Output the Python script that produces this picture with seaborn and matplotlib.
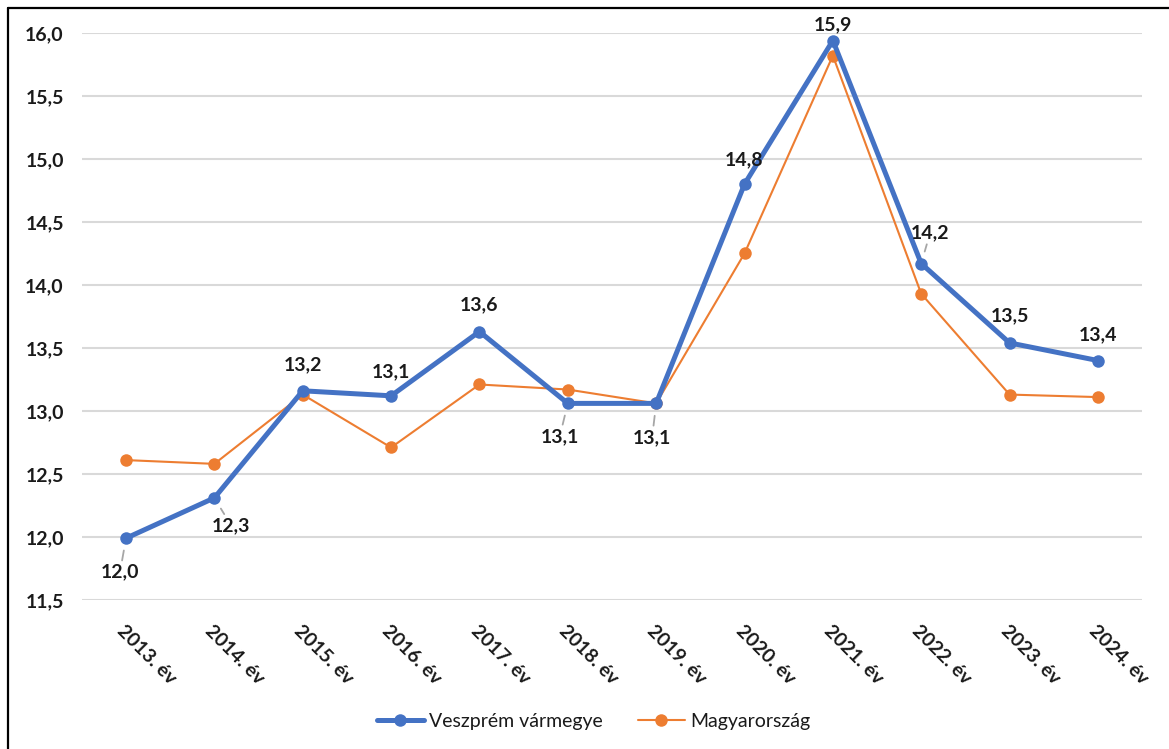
import numpy as np
import pandas as pd
import matplotlib
matplotlib.use("Agg")
import matplotlib.pyplot as plt
import seaborn as sns
from matplotlib.lines import Line2D

# Data
years = ["2013. év", "2014. év", "2015. év", "2016. év", "2017. év", "2018. év",
         "2019. év", "2020. év", "2021. év", "2022. év", "2023. év", "2024. év"]
veszprem = [11.99, 12.31, 13.16, 13.12, 13.63, 13.06, 13.06, 14.80, 15.94, 14.17, 13.54, 13.40]
magyar = [12.61, 12.58, 13.13, 12.71, 13.21, 13.17, 13.06, 14.25, 15.82, 13.93, 13.13, 13.11]
yticks = [11.5, 12.0, 12.5, 13.0, 13.5, 14.0, 14.5, 15.0, 15.5, 16.0]

df = pd.DataFrame({"ev": years, "Veszprém vármegye": veszprem, "Magyarország": magyar})

sns.set_theme(style="white")
plt.rcParams["font.family"] = ["Lato", "DejaVu Sans"]

blue = "#4472C4"
orange = "#ED7D31"

fig = plt.figure(figsize=(11.69, 7.49), dpi=100)
ax = fig.add_axes([0.070, 0.199, 0.907, 0.757])

sns.lineplot(data=df, x="ev", y="Veszprém vármegye", ax=ax, color=blue, linewidth=3.6,
             marker="o", markersize=9, markeredgewidth=0, sort=False,
             label="Veszprém vármegye", zorder=4)
sns.lineplot(data=df, x="ev", y="Magyarország", ax=ax, color=orange, linewidth=1.5,
             marker="o", markersize=9, markeredgewidth=0, sort=False,
             label="Magyarország", zorder=3)

ax.set_xlim(-0.5, len(years) - 0.5)
ax.set_ylim(11.5, 16.0)
ax.set_yticks(yticks)
ax.set_yticklabels([f"{v:.1f}".replace(".", ",") for v in yticks],
                   fontsize=14, fontweight="bold", color="#1a1a1a")
ax.tick_params(axis="y", length=0, pad=13)
ax.tick_params(axis="x", length=0, pad=16)
for lab in ax.get_xticklabels():
    lab.set_rotation(-45)
    lab.set_ha("left")
    lab.set_va("top")
    lab.set_rotation_mode("anchor")
    lab.set_fontsize(14)
    lab.set_fontweight("bold")
    lab.set_color("#1a1a1a")
ax.set_xlabel("")
ax.set_ylabel("")
ax.grid(axis="y", color="#D9D9D9", linewidth=1.5)
ax.set_axisbelow(True)
for s in ax.spines.values():
    s.set_visible(False)

# data labels for the county series (offsets in pixels, leader flag)
px = 72 / 100
offsets = [(-6, -34, True), (17, -28, True), (0, 26, False), (0, 24, False),
           (0, 27, False), (-8, -33, True), (-4, -34, True), (0, 24, False),
           (0, 16, False), (9, 31, True), (0, 27, False), (0, 26, False)]
for i, (v, (dx, dy, lead)) in enumerate(zip(veszprem, offsets)):
    txt = f"{v:.1f}".replace(".", ",")
    kw = {}
    if lead:
        kw["arrowprops"] = dict(arrowstyle="-", color="#A6A6A6", lw=1.3,
                                shrinkA=0, shrinkB=9)
    ax.annotate(txt, (i, v), xytext=(dx * px, dy * px), textcoords="offset points",
                ha="center", va="center", fontsize=14, fontweight="bold",
                color="#1a1a1a", annotation_clip=False, zorder=5, **kw)

ax.legend_.remove()
handles = [Line2D([], [], color=blue, lw=3.6, marker="o", markersize=9, markeredgewidth=0),
           Line2D([], [], color=orange, lw=1.5, marker="o", markersize=9, markeredgewidth=0)]
fig.legend(handles, ["Veszprém vármegye", "Magyarország"], loc="center",
           bbox_to_anchor=(0.508, 1 - 721 / 749), ncol=2, frameon=False,
           fontsize=14, handlelength=2.4, handletextpad=0.3, columnspacing=1.8,
           labelcolor="#1a1a1a")

# outer frame (left and top edges visible)
fig.add_artist(Line2D([8 / 1169, 8 / 1169], [0, 1 - 8 / 749], color="black", lw=1.6,
                      transform=fig.transFigure))
fig.add_artist(Line2D([8 / 1169, 1], [1 - 8 / 749, 1 - 8 / 749], color="black", lw=1.6,
                      transform=fig.transFigure))

fig.savefig("out.png", dpi=100)
